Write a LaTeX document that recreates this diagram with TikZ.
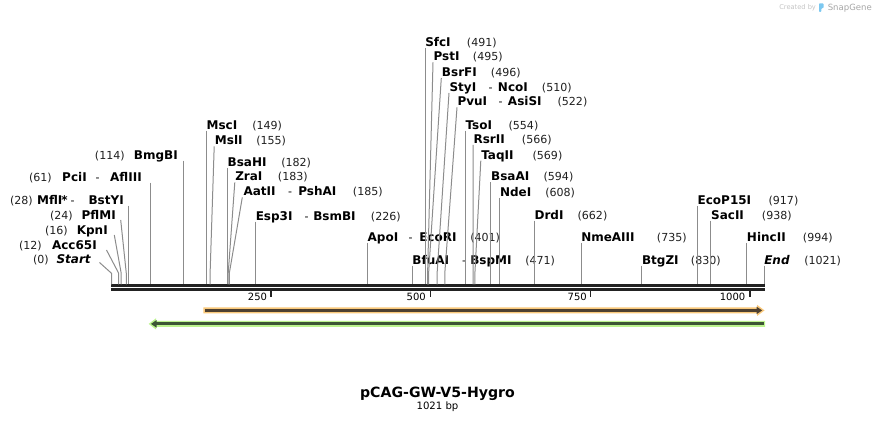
\documentclass[tikz,border=0pt]{standalone}
\usepackage{fontspec}
\setmainfont{DejaVu Sans}
\definecolor{seqline}{HTML}{222222}
\definecolor{conn}{HTML}{8C8C8C}
\definecolor{orlight}{HTML}{F9C87A}
\definecolor{ordark}{HTML}{4E4030}
\definecolor{grlight}{HTML}{BCF48E}
\definecolor{grdark}{HTML}{3D5535}
\definecolor{logoA}{HTML}{C4C4C4}
\definecolor{logoB}{HTML}{A6A6A6}
\definecolor{logoBlue}{HTML}{7CC8F0}
\begin{document}
\begin{tikzpicture}[x=0.75pt,y=-0.75pt,
  nm/.style={font=\fontsize{9}{10}\selectfont\bfseries, inner sep=0pt, text=black},
  nmi/.style={font=\fontsize{9}{10}\selectfont\bfseries\itshape, inner sep=0pt, text=black},
  num/.style={font=\fontsize{8.3}{10}\selectfont, inner sep=0pt, text=black!88},
  dsh/.style={font=\fontsize{8.3}{10}\selectfont, inner sep=0pt, anchor=base},
  tk/.style={font=\fontsize{7.5}{9}\selectfont, inner sep=0pt, anchor=base east},
  cn/.style={draw=conn, line width=0.75pt},
  tick/.style={draw=seqline, line width=1.4pt}]
\useasboundingbox (0,0) rectangle (876,423);

% ---------- sequence line ----------
\coordinate (L0) at (111,285.3);
\coordinate (L1) at (765,285.3);
\coordinate (M0) at (111,289.3);
\coordinate (M1) at (765,289.3);
\draw[seqline, line width=1.9pt] (L0) -- (L1);
\draw[seqline, line width=1.9pt] (M0) -- (M1);

% ---------- ticks ----------
\coordinate (t250a) at (271,291.3); \coordinate (t250b) at (271,297);
\coordinate (t500a) at (430.5,291.3); \coordinate (t500b) at (430.5,297);
\coordinate (t750a) at (590.5,291.3); \coordinate (t750b) at (590.5,297);
\coordinate (t1000a) at (750,291.3); \coordinate (t1000b) at (750,297);
\draw[tick] (t250a) -- (t250b);
\draw[tick] (t500a) -- (t500b);
\draw[tick] (t750a) -- (t750b);
\draw[tick] (t1000a) -- (t1000b);
\node[tk] (k250) at (267.3,301) {250};
\node[tk] (k500) at (426,301) {500};
\node[tk] (k750) at (587,301) {750};
\node[tk] (k1000) at (745.5,301) {1000};

% ---------- features ----------
\fill[orlight] (203.3,307.3) -- (757,307.3) -- (757,304.8) -- (764.5,310.4) -- (757,316) -- (757,313.5) -- (203.3,313.5) -- cycle;
\draw[ordark, line width=2.1pt] (205,310.4) -- (758,310.4);
\fill[ordark] (756.5,306.6) -- (762.2,310.4) -- (756.5,314.2) -- cycle;

\fill[grlight] (765,320.8) -- (156,320.8) -- (156,318.3) -- (148.7,323.9) -- (156,329.5) -- (156,327) -- (765,327) -- cycle;
\draw[grdark, line width=2.1pt] (763.5,323.9) -- (155,323.9);
\fill[grdark] (156.5,320.1) -- (151,323.9) -- (156.5,327.7) -- cycle;

% ---------- left-side labels ----------
% Start (0)
\node[nmi, anchor=base east] (nStart) at (91,263.8) {Start};
\node[num, anchor=base east] (mStart) at (49,263.8) {(0)};
\coordinate (eStart) at (99.5,262.5); \coordinate (kStart) at (111.5,273.3); \coordinate (sStart) at (111.5,284.5);
\draw[cn] (eStart) -- (kStart) -- (sStart);
% Acc65I (12)
\node[nm, anchor=base east] (nAcc) at (97,249.3) {Acc65I};
\node[num, anchor=base east] (mAcc) at (42,249.3) {(12)};
\coordinate (eAcc) at (106.5,250); \coordinate (kAcc) at (118.7,273.3); \coordinate (sAcc) at (118.7,284.5);
\draw[cn] (eAcc) -- (kAcc) -- (sAcc);
% KpnI (16)
\node[nm, anchor=base east] (nKpn) at (108,234.3) {KpnI};
\node[num, anchor=base east] (mKpn) at (68,234.3) {(16)};
\coordinate (eKpn) at (114.3,235); \coordinate (kKpn) at (121.2,273.3); \coordinate (sKpn) at (121.2,284.5);
\draw[cn] (eKpn) -- (kKpn) -- (sKpn);
% PflMI (24)
\node[nm, anchor=base east] (nPfl) at (116,219.3) {PflMI};
\node[num, anchor=base east] (mPfl) at (73,219.3) {(24)};
\coordinate (ePfl) at (120.7,220); \coordinate (kPfl) at (126.3,273.3); \coordinate (sPfl) at (126.3,284.5);
\draw[cn] (ePfl) -- (kPfl) -- (sPfl);
% MflI * - BstYI (28)
\node[nm, anchor=base east] (nBst) at (124,204.3) {BstYI};
\node[dsh] (dMfl) at (72.7,204.3) {-};
\node[nm, anchor=base east] (nStar) at (68,204.3) {*};
\node[nm, anchor=base east] (nMfl) at (62.7,204.3) {MflI};
\node[num, anchor=base east] (mMfl) at (33,204.3) {(28)};
\coordinate (eMfl) at (128.9,205.7); \coordinate (sMfl) at (128.9,284.5);
\draw[cn] (eMfl) -- (sMfl);
% PciI - AflIII (61)
\node[nm, anchor=base east] (nAfl) at (142,181.3) {AflIII};
\node[dsh] (dPci) at (97.7,181.3) {-};
\node[nm, anchor=base east] (nPci) at (87,181.3) {PciI};
\node[num, anchor=base east] (mPci) at (52,181.3) {(61)};
\coordinate (ePci) at (150,182.7); \coordinate (sPci) at (150,284.5);
\draw[cn] (ePci) -- (sPci);
% BmgBI (114)
\node[nm, anchor=base east] (nBmg) at (178,159.3) {BmgBI};
\node[num, anchor=base east] (mBmg) at (125,159.3) {(114)};
\coordinate (eBmg) at (183.9,160.7); \coordinate (sBmg) at (183.9,284.5);
\draw[cn] (eBmg) -- (sBmg);

% ---------- right-side labels ----------
% MscI (149)
\node[nm, anchor=base west] (nMsc) at (206.3,129.3) {MscI};
\node[num, anchor=base west] (mMsc) at (252,129.3) {(149)};
\coordinate (eMsc) at (206.3,130.7); \coordinate (sMsc) at (206.3,284.5);
\draw[cn] (eMsc) -- (sMsc);
% MslI (155)
\node[nm, anchor=base west] (nMsl) at (214.7,145) {MslI};
\node[num, anchor=base west] (mMsl) at (256,145) {(155)};
\coordinate (eMsl) at (214.2,146.4); \coordinate (kMsl) at (210.1,273.3); \coordinate (sMsl) at (210.1,284.5);
\draw[cn] (eMsl) -- (kMsl) -- (sMsl);
% BsaHI (182)
\node[nm, anchor=base west] (nBsaH) at (227.4,166.6) {BsaHI};
\node[num, anchor=base west] (mBsaH) at (281,166.6) {(182)};
\coordinate (eBsaH) at (227.4,168); \coordinate (sBsaH) at (227.4,284.5);
\draw[cn] (eBsaH) -- (sBsaH);
% ZraI (183)
\node[nm, anchor=base west] (nZra) at (235,181) {ZraI};
\node[num, anchor=base west] (mZra) at (277.7,181) {(183)};
\coordinate (eZra) at (234.8,182.4); \coordinate (kZra) at (228.2,273.3); \coordinate (sZra) at (228.2,284.5);
\draw[cn] (eZra) -- (kZra) -- (sZra);
% AatII - PshAI (185)
\node[nm, anchor=base west] (nAat) at (243.3,196) {AatII};
\node[dsh] (dAat) at (290,196) {-};
\node[nm, anchor=base west] (nPsh) at (298,196) {PshAI};
\node[num, anchor=base west] (mAat) at (352.7,196) {(185)};
\coordinate (eAat) at (242.3,197.4); \coordinate (kAat) at (229.3,273.3); \coordinate (sAat) at (229.3,284.5);
\draw[cn] (eAat) -- (kAat) -- (sAat);
% Esp3I - BsmBI (226)
\node[nm, anchor=base west] (nEsp) at (255.5,220.3) {Esp3I};
\node[dsh] (dEsp) at (306.7,220.3) {-};
\node[nm, anchor=base west] (nBsm) at (313,220.3) {BsmBI};
\node[num, anchor=base west] (mEsp) at (370.7,220.3) {(226)};
\coordinate (eEsp) at (255.5,221.7); \coordinate (sEsp) at (255.5,284.5);
\draw[cn] (eEsp) -- (sEsp);
% ApoI - EcoRI (401)
\node[nm, anchor=base west] (nApo) at (367.4,241.6) {ApoI};
\node[dsh] (dApo) at (410.7,241.6) {-};
\node[nm, anchor=base west] (nEco) at (419,241.6) {EcoRI};
\node[num, anchor=base west] (mApo) at (470,241.6) {(401)};
\coordinate (eApo) at (367.4,243); \coordinate (sApo) at (367.4,284.5);
\draw[cn] (eApo) -- (sApo);
% BfuAI - BspMI (471)
\node[nm, anchor=base west] (nBfu) at (412.2,264.3) {BfuAI};
\node[dsh] (dBfu) at (464,264.3) {-};
\node[nm, anchor=base west] (nBsp) at (470,264.3) {BspMI};
\node[num, anchor=base west] (mBfu) at (525,264.3) {(471)};
\coordinate (eBfu) at (412.2,265.7); \coordinate (sBfu) at (412.2,284.5);
\draw[cn] (eBfu) -- (sBfu);
% SfcI (491)
\node[nm, anchor=base west] (nSfc) at (425,46.6) {SfcI};
\node[num, anchor=base west] (mSfc) at (466.7,46.6) {(491)};
\coordinate (eSfc) at (425,48); \coordinate (sSfc) at (425,284.5);
\draw[cn] (eSfc) -- (sSfc);
% PstI (495)
\node[nm, anchor=base west] (nPst) at (433.3,61) {PstI};
\node[num, anchor=base west] (mPst) at (472.7,61) {(495)};
\coordinate (ePst) at (433,62.4); \coordinate (kPst) at (427.6,273.3); \coordinate (sPst) at (427.6,284.5);
\draw[cn] (ePst) -- (kPst) -- (sPst);
% BsrFI (496)
\node[nm, anchor=base west] (nBsrF) at (441.7,76.6) {BsrFI};
\node[num, anchor=base west] (mBsrF) at (490.7,76.6) {(496)};
\coordinate (eBsrF) at (441.3,78); \coordinate (kBsrF) at (428.6,273.3); \coordinate (sBsrF) at (428.6,284.5);
\draw[cn] (eBsrF) -- (kBsrF) -- (sBsrF);
% StyI - NcoI (510)
\node[nm, anchor=base west] (nSty) at (449.3,91.6) {StyI};
\node[dsh] (dSty) at (490.7,91.6) {-};
\node[nm, anchor=base west] (nNco) at (497.7,91.6) {NcoI};
\node[num, anchor=base west] (mSty) at (541.7,91.6) {(510)};
\coordinate (eSty) at (449,93); \coordinate (kSty) at (437.1,273.3); \coordinate (sSty) at (437.1,284.5);
\draw[cn] (eSty) -- (kSty) -- (sSty);
% PvuI - AsiSI (522)
\node[nm, anchor=base west] (nPvu) at (457.3,106) {PvuI};
\node[dsh] (dPvu) at (500.7,106) {-};
\node[nm, anchor=base west] (nAsi) at (507.7,106) {AsiSI};
\node[num, anchor=base west] (mPvu) at (557.3,106) {(522)};
\coordinate (ePvu) at (457,107.4); \coordinate (kPvu) at (444.8,273.3); \coordinate (sPvu) at (444.8,284.5);
\draw[cn] (ePvu) -- (kPvu) -- (sPvu);
% TsoI (554)
\node[nm, anchor=base west] (nTso) at (465.3,129.3) {TsoI};
\node[num, anchor=base west] (mTso) at (508.3,129.3) {(554)};
\coordinate (eTso) at (465.3,130.7); \coordinate (sTso) at (465.3,284.5);
\draw[cn] (eTso) -- (sTso);
% RsrII (566)
\node[nm, anchor=base west] (nRsr) at (473.3,143.6) {RsrII};
\node[num, anchor=base west] (mRsr) at (521.7,143.6) {(566)};
\coordinate (eRsr) at (473.2,145); \coordinate (kRsr) at (473,273.3); \coordinate (sRsr) at (473,284.5);
\draw[cn] (eRsr) -- (kRsr) -- (sRsr);
% TaqII (569)
\node[nm, anchor=base west] (nTaq) at (481,159.3) {TaqII};
\node[num, anchor=base west] (mTaq) at (532.3,159.3) {(569)};
\coordinate (eTaq) at (480.8,160.7); \coordinate (kTaq) at (474.9,273.3); \coordinate (sTaq) at (474.9,284.5);
\draw[cn] (eTaq) -- (kTaq) -- (sTaq);
% BsaAI (594)
\node[nm, anchor=base west] (nBsaA) at (490.9,181) {BsaAI};
\node[num, anchor=base west] (mBsaA) at (543.3,181) {(594)};
\coordinate (eBsaA) at (490.9,182.4); \coordinate (sBsaA) at (490.9,284.5);
\draw[cn] (eBsaA) -- (sBsaA);
% NdeI (608)
\node[nm, anchor=base west] (nNde) at (499.8,196.6) {NdeI};
\node[num, anchor=base west] (mNde) at (545,196.6) {(608)};
\coordinate (eNde) at (499.8,198); \coordinate (sNde) at (499.8,284.5);
\draw[cn] (eNde) -- (sNde);
% DrdI (662)
\node[nm, anchor=base west] (nDrd) at (534.3,219.3) {DrdI};
\node[num, anchor=base west] (mDrd) at (577.3,219.3) {(662)};
\coordinate (eDrd) at (534.3,220.7); \coordinate (sDrd) at (534.3,284.5);
\draw[cn] (eDrd) -- (sDrd);
% NmeAIII (735)
\node[nm, anchor=base west] (nNme) at (581,241.6) {NmeAIII};
\node[num, anchor=base west] (mNme) at (656.7,241.6) {(735)};
\coordinate (eNme) at (581,243); \coordinate (sNme) at (581,284.5);
\draw[cn] (eNme) -- (sNme);
% BtgZI (830)
\node[nm, anchor=base west] (nBtg) at (641.8,264.3) {BtgZI};
\node[num, anchor=base west] (mBtg) at (690.7,264.3) {(830)};
\coordinate (eBtg) at (641.8,265.7); \coordinate (sBtg) at (641.8,284.5);
\draw[cn] (eBtg) -- (sBtg);
% EcoP15I (917)
\node[nm, anchor=base west] (nEcoP) at (697.4,205) {EcoP15I};
\node[num, anchor=base west] (mEcoP) at (768.3,205) {(917)};
\coordinate (eEcoP) at (697.4,206.4); \coordinate (sEcoP) at (697.4,284.5);
\draw[cn] (eEcoP) -- (sEcoP);
% SacII (938)
\node[nm, anchor=base west] (nSac) at (710.9,219.3) {SacII};
\node[num, anchor=base west] (mSac) at (761.7,219.3) {(938)};
\coordinate (eSac) at (710.9,220.7); \coordinate (sSac) at (710.9,284.5);
\draw[cn] (eSac) -- (sSac);
% HincII (994)
\node[nm, anchor=base west] (nHinc) at (746.7,241.6) {HincII};
\node[num, anchor=base west] (mHinc) at (802.7,241.6) {(994)};
\coordinate (eHinc) at (746.7,243); \coordinate (sHinc) at (746.7,284.5);
\draw[cn] (eHinc) -- (sHinc);
% End (1021)
\node[nmi, anchor=base west] (nEnd) at (764,264.3) {End};
\node[num, anchor=base west] (mEnd) at (804,264.3) {(1021)};
\coordinate (eEnd) at (764.3,265.7); \coordinate (sEnd) at (764.3,284.5);
\draw[cn] (eEnd) -- (sEnd);

% ---------- title ----------
\node[font=\fontsize{10.6}{12}\selectfont\bfseries, inner sep=0pt, anchor=base] (title) at (437.5,397.3) {pCAG-GW-V5-Hygro};
\node[font=\fontsize{7.6}{9}\selectfont, inner sep=0pt, anchor=base] (bp) at (437.5,409.5) {1021 bp};

% ---------- logo ----------
\node[font=\fontsize{5}{6}\selectfont, text=logoA, inner sep=0pt, anchor=base west] (cby) at (779,10) {Created by};
\fill[logoBlue, rounded corners=0.6pt] (819,3.3) -- (823.5,3.3) -- (823.5,8.2) -- (821.3,8.2) -- (821.3,12) -- (819,12) -- cycle;
\node[font=\fontsize{6.4}{7}\selectfont, text=logoB, inner sep=0pt, anchor=base west] (sg) at (827.5,10.5) {SnapGene};
\end{tikzpicture}
\end{document}
